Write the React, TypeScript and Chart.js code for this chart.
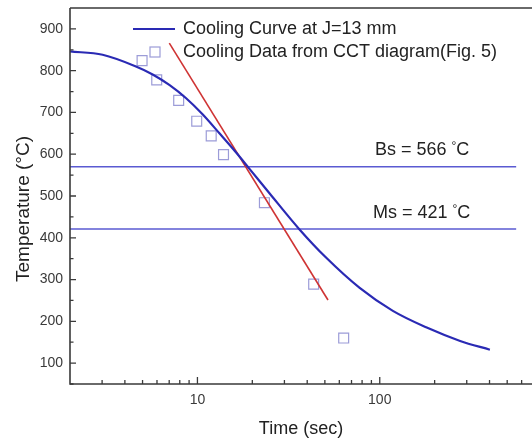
import React, { useEffect, useRef } from "react";
import { Chart, registerables } from "chart.js";

Chart.register(...registerables);

// ---- data ----
const curveTime = [2, 3.02, 4.6, 5.68, 7.01, 8.67, 10.7, 13.2, 16.3, 19.3, 24.9, 36.3, 50.9, 77.6, 118, 181, 276, 402];
const curveTemp = [846, 838, 810, 791, 766, 734, 695, 650, 604, 565, 506, 420, 352, 280, 225, 185, 153, 132];

const redTime = [7.01, 52];
const redTemp = [866, 251];

const cctTime = [4.97, 5.98, 7.89, 9.91, 11.9, 13.9, 23.3, 43.4, 63.4];
const cctTemp = [824, 778, 729, 679, 644, 599, 484, 289, 160];

const refLineTime = [2, 560];
const bsTemp = 570;
const msTemp = 421;

const xMajorTicks = [10, 100];
const xMinorTicks = [3, 4, 5, 6, 7, 8, 9, 20, 30, 40, 50, 60, 70, 80, 90, 200, 300, 400, 500, 600];
const yTickValues = [100, 200, 300, 400, 500, 600, 700, 800, 900];

const legendLabels = ["Cooling Curve at J=13 mm", "Cooling Data from CCT diagram(Fig. 5)"];
const bsLabel = ["Bs = 566 ", "°", "C"];
const msLabel = ["Ms = 421 ", "°", "C"];
const xTitle = "Time (sec)";
const yTitle = "Temperature (°C)";

const FONT = "'Liberation Sans', Arial, Helvetica, sans-serif";
const BLUE = "#2a2ab4";
const LINEBLUE = "#5a5ad2";
const RED = "#cf3434";
const SQUARE = "#9c9cd8";
const AXIS = "#3a3a3a";

const decorPlugin = {
  id: "decor",
  afterDraw(chart: any) {
    const ctx = chart.ctx;
    const { left, right, top, bottom } = chart.chartArea;
    const xs = chart.scales.x;
    const ys = chart.scales.y;
    ctx.save();
    // axes frame
    ctx.strokeStyle = AXIS;
    ctx.lineWidth = 1.6;
    ctx.beginPath();
    ctx.moveTo(left, top);
    ctx.lineTo(left, bottom);
    ctx.lineTo(right, bottom);
    ctx.moveTo(left, top);
    ctx.lineTo(right, top);
    ctx.stroke();

    // y ticks (inward)
    ctx.lineWidth = 1.3;
    ctx.beginPath();
    for (const v of yTickValues) {
      const py = ys.getPixelForValue(v);
      ctx.moveTo(left, py);
      ctx.lineTo(left + 6, py);
      const pm = ys.getPixelForValue(v - 50);
      ctx.moveTo(left, pm);
      ctx.lineTo(left + 3.5, pm);
    }
    // x ticks
    for (const v of xMajorTicks) {
      const px = xs.getPixelForValue(v);
      ctx.moveTo(px, bottom);
      ctx.lineTo(px, bottom - 7);
    }
    for (const v of xMinorTicks) {
      const px = xs.getPixelForValue(v);
      ctx.moveTo(px, bottom);
      ctx.lineTo(px, bottom - 4);
    }
    ctx.stroke();

    // legend
    ctx.strokeStyle = BLUE;
    ctx.lineWidth = 2;
    ctx.beginPath();
    ctx.moveTo(left + 63, top + 21);
    ctx.lineTo(left + 105, top + 21);
    ctx.stroke();
    ctx.strokeStyle = SQUARE;
    ctx.lineWidth = 1.2;
    ctx.strokeRect(left + 80, top + 39, 10, 10);
    ctx.fillStyle = "#222";
    ctx.font = `18px ${FONT}`;
    ctx.textBaseline = "middle";
    ctx.textAlign = "left";
    ctx.fillText(legendLabels[0], left + 113, top + 21);
    ctx.fillText(legendLabels[1], left + 113, top + 44);

    // Bs / Ms labels
    const drawDeg = (parts: string[], x: number, y: number) => {
      ctx.textBaseline = "alphabetic";
      ctx.font = `18px ${FONT}`;
      ctx.fillText(parts[0], x, y);
      let cx = x + ctx.measureText(parts[0]).width;
      ctx.font = `12px ${FONT}`;
      ctx.fillText(parts[1], cx, y - 5);
      cx += ctx.measureText(parts[1]).width;
      ctx.font = `18px ${FONT}`;
      ctx.fillText(parts[2], cx, y);
    };
    drawDeg(bsLabel, left + 305, top + 147);
    drawDeg(msLabel, left + 303, top + 210);

    // axis titles
    ctx.fillStyle = "#222";
    ctx.font = `18px ${FONT}`;
    ctx.textAlign = "center";
    ctx.textBaseline = "middle";
    ctx.fillText(xTitle, (left + right) / 2, bottom + 45);
    ctx.save();
    ctx.translate(24, 209);
    ctx.rotate(-Math.PI / 2);
    ctx.font = `19px ${FONT}`;
    ctx.fillText(yTitle, 0, 0);
    ctx.restore();
    ctx.restore();
  },
};

export default function App() {
  const ref = useRef<HTMLCanvasElement | null>(null);
  useEffect(() => {
    document.body.style.margin = "0";
    if (!ref.current) return;
    const chart = new Chart(ref.current, {
      type: "line",
      data: {
        datasets: [
          {
            label: legendLabels[0],
            data: curveTime.map((t, i) => ({ x: t, y: curveTemp[i] })),
            borderColor: BLUE,
            borderWidth: 2.2,
            pointRadius: 0,
            cubicInterpolationMode: "monotone",
          },
          {
            label: "fit",
            data: redTime.map((t, i) => ({ x: t, y: redTemp[i] })),
            borderColor: RED,
            borderWidth: 1.6,
            pointRadius: 0,
          },
          {
            label: "Bs",
            data: refLineTime.map((t) => ({ x: t, y: bsTemp })),
            borderColor: LINEBLUE,
            borderWidth: 1.6,
            pointRadius: 0,
          },
          {
            label: "Ms",
            data: refLineTime.map((t) => ({ x: t, y: msTemp })),
            borderColor: LINEBLUE,
            borderWidth: 1.6,
            pointRadius: 0,
          },
          {
            label: legendLabels[1],
            data: cctTime.map((t, i) => ({ x: t, y: cctTemp[i] })),
            showLine: false,
            pointStyle: "rect",
            pointRadius: 7,
            pointBorderWidth: 1.2,
            pointBorderColor: SQUARE,
            pointBackgroundColor: "rgba(0,0,0,0)",
            borderColor: SQUARE,
          },
        ],
      },
      options: {
        animation: false,
        responsive: false,
        devicePixelRatio: 1,
        layout: { autoPadding: false, padding: { top: 8, left: 0, right: 0, bottom: 0 } },
        plugins: { legend: { display: false }, tooltip: { enabled: false } },
        scales: {
          x: {
            type: "logarithmic",
            min: 2,
            max: 684,
            border: { display: false },
            grid: { display: false, drawTicks: false },
            afterBuildTicks: (s: any) => {
              s.ticks = xMajorTicks.map((v) => ({ value: v }));
            },
            afterFit: (s: any) => {
              s.height = 55;
              s.paddingLeft = 0;
              s.paddingRight = 0;
            },
            ticks: {
              autoSkip: false,
              maxRotation: 0,
              padding: 8,
              color: "#3a3a3a",
              font: { family: FONT, size: 14 },
              callback: (v: any) => String(v),
            },
          },
          y: {
            type: "linear",
            min: 50,
            max: 950,
            border: { display: false },
            grid: { display: false, drawTicks: false },
            afterBuildTicks: (s: any) => {
              s.ticks = yTickValues.map((v) => ({ value: v }));
            },
            afterFit: (s: any) => {
              s.width = 70;
              s.paddingTop = 0;
              s.paddingBottom = 0;
            },
            ticks: {
              padding: 7,
              color: "#3a3a3a",
              font: { family: FONT, size: 14 },
              callback: (v: any) => String(v),
            },
          },
        },
      },
      plugins: [decorPlugin],
    } as any);
    return () => chart.destroy();
  }, []);
  return (
    <div style={{ position: "absolute", left: 0, top: 0, width: 532, height: 439, background: "#fff" }}>
      <canvas ref={ref} width={532} height={439} />
    </div>
  );
}
